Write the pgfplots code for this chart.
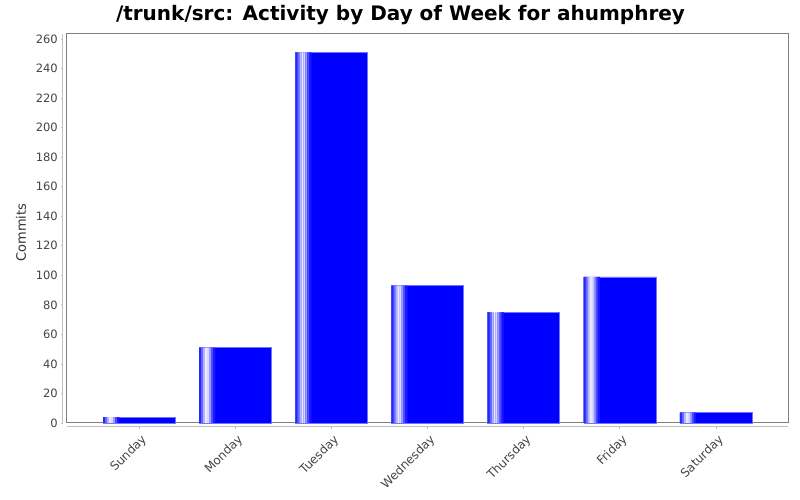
\documentclass[border=0pt]{standalone}
\usepackage{fontspec}
\setmainfont{DejaVu Sans}
\usepackage{pgfplots}
\usepackage{pgfplotstable}
\pgfplotsset{compat=1.18}

\definecolor{framegray}{HTML}{808080}
\definecolor{axisgray}{HTML}{C0C0C0}
\definecolor{labelgray}{HTML}{444444}

\pgfplotstableread{
x  commits
0  4
1  51
2  251
3  93
4  75
5  99
6  7
}\commits

% a thin vertical strip of each bar, offset (bp) from the bar's left edge
\pgfplotsset{
  strip/.style 2 args={ybar, bar width=2.2bp, bar shift={-36bp+#1bp+1bp},
    draw=none, fill=#2},
}

\begin{document}
\begin{tikzpicture}[x=1bp,y=1bp]
  % page: 800 x 500, axis box starts 67 from the left and 77 from the bottom
  \path (-67,-77) rectangle (733,423);
  \begin{axis}[
    at={(0,0)}, anchor=south west,
    scale only axis,
    width=721bp, height=389bp,
    xmin=-0.75, xmax=6.75,
    ymin=0, ymax=263.4,
    ybar, bar width=0.75, bar shift=0pt,
    xtick={0,...,6},
    xticklabels={Sunday,Monday,Tuesday,Wednesday,Thursday,Friday,Saturday},
    ytick={0,20,...,260},
    tick pos=left,
    axis line style={framegray, line width=1bp},
    tick align=outside,
    major tick length=2bp,
    xtick style={axisgray, line width=0.8bp, yshift=-4bp},
    ytick style={axisgray, line width=0.8bp, xshift=-4bp},
    % shifts act in the rotated frame of the label
    x tick label style={rotate=45, anchor=north east, inner sep=0pt,
      font=\fontsize{12bp}{14bp}\selectfont, text=labelgray,
      xshift=-5bp, yshift=-7bp},
    y tick label style={anchor=east, inner sep=0pt,
      font=\fontsize{11.5bp}{13bp}\selectfont, text=labelgray, xshift=-7bp},
    /pgf/number format/assume math mode=true,
    ylabel={Commits},
    ylabel style={at={(rel axis cs:0,0.5)}, anchor=center, inner sep=0pt,
      yshift=46bp, xshift=-4bp, font=\fontsize{13bp}{15bp}\selectfont,
      text=labelgray!70!black},
    title={\textbf{/trunk/src: Activity by Day of Week for ahumphrey}},
    title style={at={(rel axis cs:0.5,1)}, anchor=center, inner sep=0pt,
      xshift=-27bp, yshift=13bp, font=\fontsize{20bp}{22bp}\selectfont},
    clip=false,
  ]
  \addplot[fill=blue, draw=blue!55!white, line width=0.4bp] table {\commits};
  % light stripe near the left edge of every bar
  \addplot[strip={0}{blue!85!white}] table {\commits};
  \addplot[strip={2}{blue!60!white}] table {\commits};
  \addplot[strip={4}{blue!30!white}] table {\commits};
  \addplot[strip={6}{blue!8!white}] table {\commits};
  \addplot[strip={8}{blue!15!white}] table {\commits};
  \addplot[strip={10}{blue!40!white}] table {\commits};
  \addplot[strip={12}{blue!70!white}] table {\commits};
  \addplot[strip={14}{blue!90!white}] table {\commits};
  % offset axis lines, as in the reference
  \draw[axisgray, line width=1bp]
    ([xshift=-4bp]rel axis cs:0,0) -- ([xshift=-4bp]rel axis cs:0,1);
  \draw[axisgray, line width=1bp]
    ([yshift=-4bp]rel axis cs:0,0) -- ([yshift=-4bp]rel axis cs:1,0);
  \end{axis}
\end{tikzpicture}
\end{document}
